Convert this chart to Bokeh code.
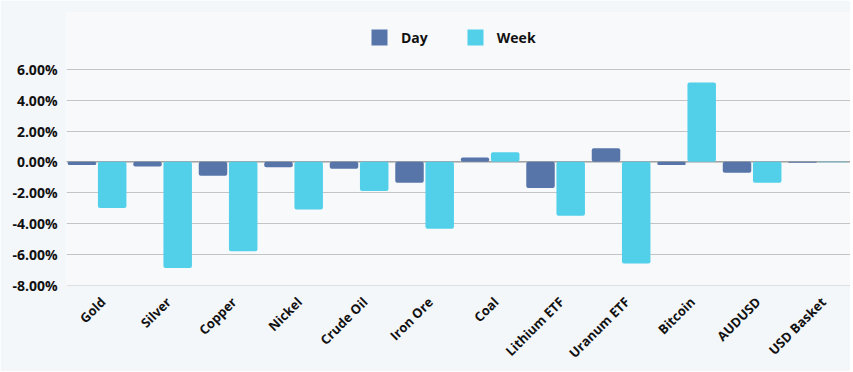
import math
from bokeh.plotting import figure
from bokeh.models import (ColumnDataSource, Range1d, FixedTicker, PrintfTickFormatter,
                          CustomJSTickFormatter, Legend, LegendItem, Span)
from bokeh.transform import dodge
from bokeh.embed import file_html
from bokeh.resources import INLINE

categories = ["Gold", "Silver", "Copper", "Nickel", "Crude Oil", "Iron Ore", "Coal",
              "Lithium ETF", "Uranum ETF", "Bitcoin", "AUDUSD", "USD Basket"]
day = [-0.20, -0.30, -0.90, -0.35, -0.45, -1.35, 0.28, -1.70, 0.89, -0.20, -0.70, -0.06]
week = [-3.00, -6.90, -5.80, -3.10, -1.90, -4.35, 0.63, -3.50, -6.60, 5.15, -1.35, -0.03]
y_ticks = [-8, -6, -4, -2, 0, 2, 4, 6]

DAY_COLOR = "#5875AA"
WEEK_COLOR = "#52D0EA"
FONT = "Open Sans"

src = ColumnDataSource(dict(x=list(range(len(categories))), cat=categories, day=day, week=week))

p = figure(width=850, height=371, output_backend="svg", toolbar_location=None,
           x_range=Range1d(-0.467, 11.502), y_range=Range1d(-8.03, 9.70),
           min_border_left=66, min_border_right=0, min_border_top=12, min_border_bottom=86)
p.outline_line_color = None
p.border_fill_color = "#f4f7fa"
p.background_fill_color = "#f7f9fb"

r_day = p.vbar(x=dodge("x", -0.2305), top="day", width=0.435, source=src,
               fill_color=DAY_COLOR, line_color=None, border_radius=2)
r_week = p.vbar(x=dodge("x", 0.2305), top="week", width=0.435, source=src,
                fill_color=WEEK_COLOR, line_color=None, border_radius=2)

p.add_layout(Span(location=0, dimension="width", line_color="#9a9a9a", line_width=1.2, level="underlay"))

# axes
p.yaxis.ticker = FixedTicker(ticks=y_ticks)
p.yaxis.formatter = PrintfTickFormatter(format="%.2f%%")
p.yaxis.axis_line_color = None
p.yaxis.major_tick_line_color = None
p.yaxis.minor_tick_line_color = None
p.yaxis.major_label_text_font = FONT
p.yaxis.major_label_text_font_style = "bold"
p.yaxis.major_label_text_font_size = "14px"
p.yaxis.major_label_text_color = "#111111"
p.yaxis.major_label_standoff = 3

p.xaxis.ticker = FixedTicker(ticks=[i + 0.09 for i in range(len(categories))])
p.xaxis.formatter = CustomJSTickFormatter(args=dict(labels=categories),
                                          code="return labels[Math.round(tick)] || '';")
p.xaxis.axis_line_color = None
p.xaxis.major_tick_line_color = None
p.xaxis.minor_tick_line_color = None
p.xaxis.major_label_orientation = math.pi / 4
p.xaxis.major_label_text_font = FONT
p.xaxis.major_label_text_font_style = "bold"
p.xaxis.major_label_text_font_size = "13px"
p.xaxis.major_label_text_color = "#111111"
p.xaxis.major_label_standoff = 8

p.xgrid.grid_line_color = None
p.ygrid.ticker = FixedTicker(ticks=y_ticks)
p.ygrid.grid_line_color = "#c4c4c4"
p.ygrid.grid_line_width = 1.2

legend = Legend(items=[LegendItem(label="Day", renderers=[r_day]),
                       LegendItem(label="Week", renderers=[r_week])],
                orientation="horizontal", location=(303, 238),
                glyph_width=20, glyph_height=20, label_height=20,
                label_text_font=FONT, label_text_font_style="bold",
                label_text_font_size="14px", label_text_color="#111111",
                spacing=37, label_standoff=12, padding=0, margin=0,
                border_line_color=None, background_fill_alpha=0)
p.add_layout(legend)

open("out.html", "w").write(file_html(p, INLINE))
